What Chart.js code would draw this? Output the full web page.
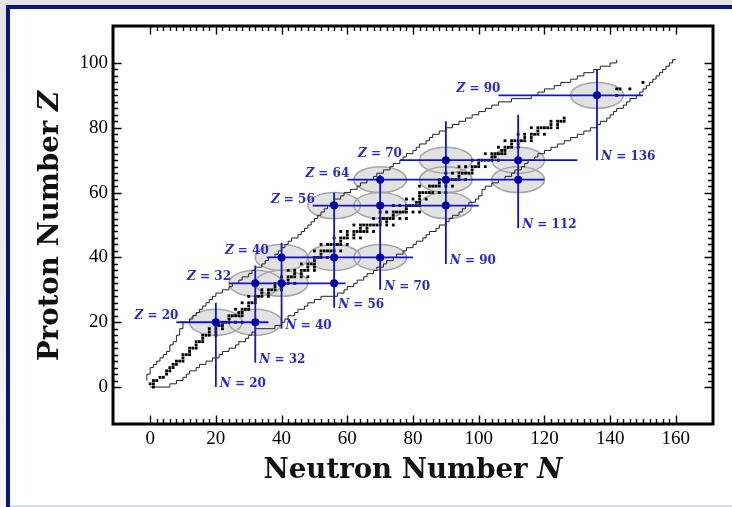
<!DOCTYPE html>
<html><head><meta charset="utf-8">
<script src="https://cdn.jsdelivr.net/npm/chart.js@4.4.1/dist/chart.umd.min.js"></script>
<style>
html,body{margin:0;padding:0;}
body{width:732px;height:507px;background:#e3e3e3;position:relative;overflow:hidden;}
#leftstrip{position:absolute;left:0;top:0;width:6px;height:507px;background:linear-gradient(#e3e3e3,#f6f6f6);}
#panel{position:absolute;left:6px;top:5px;width:726px;height:502px;background:#fff;border-top:4px solid #0b1478;border-left:4px solid #0b1478;box-sizing:border-box;}
#bottomline{position:absolute;left:10px;top:505px;width:722px;height:2px;background:#dcdcf0;}
canvas{position:absolute;left:0;top:0;}
</style></head><body>
<div id="leftstrip"></div><div id="panel"></div><div id="bottomline"></div>
<canvas id="c" width="732" height="507"></canvas>
<script>
// ---------- data ----------
const xTickLabels = [0,20,40,60,80,100,120,140,160];
const yTickLabels = [0,20,40,60,80,100];
const xTitleText = 'Neutron Number ', xTitleSymbol = 'N';
const yTitleText = 'Proton Number ', yTitleSymbol = 'Z';

// stable / long-lived nuclides: proton number and the neutron numbers found for it
const elementZ = [0,1,2,3,4,5,6,7,8,9,10,11,12,13,14,15,16,17,18,19,20,21,22,23,24,25,26,27,28,29,30,31,32,33,34,35,36,37,38,39,40,41,42,44,45,46,47,48,49,50,51,52,53,54,55,56,57,58,59,60,62,63,64,65,66,67,68,69,70,71,72,73,74,75,76,77,78,79,80,81,82,83,90,92,94];
const stableN = [
[1],[0,1],[1,2],[3,4],[5],[5,6],[6,7],[7,8],[8,9,10],[10],[10,11,12],[12],[12,13,14],[14],[14,15,16],[16],[16,17,18,20],[18,20],[18,20,22],[20,21,22],
[20,22,23,24,26,28],[24],[24,25,26,27,28],[27,28],[26,28,29,30],[30],[28,30,31,32],[32],[30,32,33,34,36],[34,36],[34,36,37,38,40],[38,40],[38,40,41,42,44],[42],
[40,42,43,44,46,48],[44,46],[42,44,46,47,48,50],[48,50],[46,48,49,50],[50],[50,51,52,54,56],[52],[50,52,53,54,55,56,58],[52,54,55,56,57,58,60],[58],
[56,58,59,60,62,64],[60,62],[58,60,62,63,64,65,66,68],[64,66],[62,64,65,66,67,68,69,70,72,74],[70,72],[68,70,71,72,73,74,76,78],[74],
[70,72,74,75,76,77,78,80,82],[78],[74,76,78,79,80,81,82],[81,82],[78,80,82,84],[82],[82,83,84,85,86,88,90],[82,85,86,87,88,90,92],[88,90],
[88,90,91,92,93,94,96],[94],[90,92,94,95,96,97,98],[98],[94,96,98,99,100,102],[100],[98,100,101,102,103,104,106],[104,105],[102,104,105,106,107,108],
[107,108],[106,108,109,110,112],[110,112],[108,110,111,112,113,114,116],[114,116],[112,114,116,117,118,120],[118],[116,118,119,120,121,122,124],
[122,124],[122,124,125,126],[126],[142],[142,143,146],[150]
];

// proton drip line (upper-left staircase)
const protonDripZ = [2,3,4,5,6,7,8,9,10,11,12,13,14,15,16,17,18,19,20,21,22,23,24,25,26,27,28,29,30,31,32,33,34,35,36,37,38,39,40,41,42,43,44,45,46,47,48,49,50,51,52,53,54,55,56,57,58,59,60,61,62,63,64,65,66,67,68,69,70,71,72,73,74,75,76,77,78,79,80,81,82,83,84,85,86,87,88,89,90,91,92,93,94,95,96,97,98,99,100,101];
const protonDripN = [-1,-1,-1,0,0,1,2,3,4,5,6,6,7,8,8,9,9,10,10,12,13,14,15,16,17,18,19,20,22,24,25,27,28,30,31,32,34,35,36,38,39,40,41,42,43,45,46,47,48,49,50,51,52,53,54,55,56,58,59,61,63,64,66,68,69,71,73,74,76,77,78,80,81,82,84,85,86,88,90,92,94,96,98,100,102,104,106,110,116,118,120,123,125,128,130,132,135,137,140,142];
// neutron drip line (lower-right staircase)
const neutronDripZ = [0,0,1,2,3,4,5,6,7,8,9,10,11,12,13,14,15,16,17,18,19,20,21,22,23,24,25,26,27,28,29,30,31,32,33,34,35,36,37,38,39,40,41,42,43,44,45,46,47,48,49,50,51,52,53,54,55,56,57,58,59,60,61,62,63,64,65,66,67,68,69,70,71,72,73,74,75,76,77,78,79,80,81,82,83,84,85,86,87,88,89,90,91,92,93,94,95,96,97,98,99,100,101];
const neutronDripN = [0,6,8,10,11,12,14,15,17,19,21,22,24,26,27,29,30,31,32,38,40,41,42,44,45,47,48,50,52,57,59,60,62,63,65,66,68,69,71,72,74,75,77,78,80,81,83,84,85,87,88,90,91,92,94,95,96,97,99,100,101,101,102,104,106,108,110,111,113,114,115,117,118,120,122,124,126,128,130,132,134,136,137,139,140,141,142,144,145,146,148,149,150,151,152,153,154,155,156,157,158,159,160];

// magic numbers
const magicZ = [20,32,40,56,64,70,90];
const magicZFromN = [8,24,35.5,49.5,60,76,106];
const magicZToN = [36,59.5,80,100,120,130,150];
const magicN = [20,32,40,56,70,90,112,136];
const magicNTopZ = [26,37.5,44.5,60,65.5,82,84,98];
const magicNBottomZ = [0,7.5,18,24.5,30,38,49,70];
const crossN = [20,32,32,40,40,56,56,70,56,70,90,70,90,90,112,112,136];
const crossZ = [20,20,32,32,40,32,40,40,56,56,56,64,64,70,64,70,90];
const ellipseN = [20,32,32,40,40,56,70,56,70,90,70,90,90,112,112,136];
const ellipseZ = [20,20,32,32,40,40,40,56,56,56,64,64,70,64,70,90];

// ---------- styles ----------
const BLUE_LINE = '#1414c4', BLUE_DOT = '#0000a6', BLUE_TEXT = '#2a2ac6';
const ELL_HALF_N = 8, ELL_HALF_Z = 4;
const LABEL_IT = 'italic bold 12px "DejaVu Serif"', LABEL_B = 'bold 12px "DejaVu Serif"';
const TITLE_B = 'bold 27.6px "DejaVu Serif"', TITLE_IT = 'italic bold 27.6px "DejaVu Serif"';

// ---------- datasets ----------
const datasets = [];
datasets.push({data: protonDripN.map((n,i)=>({x:n,y:protonDripZ[i]})), stepped:'before', borderColor:'#222', borderWidth:1, pointRadius:0, fill:false, order:10});
datasets.push({data: neutronDripN.map((n,i)=>({x:n,y:neutronDripZ[i]})), stepped:'after', borderColor:'#222', borderWidth:1, pointRadius:0, fill:false, order:10});
const stablePts = [];
elementZ.forEach((z,i)=>stableN[i].forEach(n=>stablePts.push({x:n,y:z})));
datasets.push({data: stablePts, showLine:false, pointStyle:'rect', pointRadius:2, backgroundColor:'#000', borderWidth:0, order:8});
magicZ.forEach((z,i)=>datasets.push({data:[{x:magicZFromN[i],y:z},{x:magicZToN[i],y:z}], borderColor:BLUE_LINE, borderWidth:1.8, pointRadius:0, fill:false, order:5}));
magicN.forEach((n,i)=>datasets.push({data:[{x:n,y:magicNTopZ[i]},{x:n,y:magicNBottomZ[i]}], borderColor:BLUE_LINE, borderWidth:1.8, pointRadius:0, fill:false, order:5}));
datasets.push({data: crossN.map((n,i)=>({x:n,y:crossZ[i]})), showLine:false, pointStyle:'circle', pointRadius:4, backgroundColor:BLUE_DOT, borderWidth:0, order:1});

function mixed(ctx, parts, x, y, align){
  let total = 0; const ws = parts.map(p=>{ctx.font=p[1]; const w=ctx.measureText(p[0]).width; total+=w; return w;});
  let cx = align==='right' ? x-total : (align==='center' ? x-total/2 : x);
  parts.forEach((p,i)=>{ctx.font=p[1]; ctx.fillText(p[0], cx, y); cx+=ws[i];});
}

const nuclearPlugin = {
  id:'nuclear',
  beforeDatasetsDraw(chart){
    const {ctx, chartArea:a, scales:{x,y}} = chart;
    ctx.save();
    ctx.beginPath(); ctx.rect(a.left,a.top,a.right-a.left,a.bottom-a.top); ctx.clip();
    const shapes = ellipseN.map((n,i)=>{
      const cx = x.getPixelForValue(n), cy = y.getPixelForValue(ellipseZ[i]);
      return [cx, cy, x.getPixelForValue(n+ELL_HALF_N)-cx, cy-y.getPixelForValue(ellipseZ[i]+ELL_HALF_Z)];
    });
    ctx.fillStyle='#e2e2e2';
    shapes.forEach(s=>{ctx.beginPath(); ctx.ellipse(s[0],s[1],s[2],s[3],0,0,Math.PI*2); ctx.fill();});
    ctx.strokeStyle='#a6a6a6'; ctx.lineWidth=1.5;
    shapes.forEach(s=>{ctx.beginPath(); ctx.ellipse(s[0],s[1],s[2],s[3],0,0,Math.PI*2); ctx.stroke();});
    ctx.restore();
  },
  afterDatasetsDraw(chart){
    const {ctx, chartArea:a, scales:{x,y}} = chart;
    ctx.save();
    ctx.fillStyle = BLUE_TEXT; ctx.textBaseline='alphabetic';
    magicZ.forEach((z,i)=>{
      mixed(ctx, [['Z',LABEL_IT],[' = '+z,LABEL_B]], x.getPixelForValue(magicZFromN[i])+2, y.getPixelForValue(z)-3, 'right');
    });
    magicN.forEach((n,i)=>{
      mixed(ctx, [['N',LABEL_IT],[' = '+n,LABEL_B]], x.getPixelForValue(n)+4, y.getPixelForValue(magicNBottomZ[i]), 'left');
    });
    // frame
    ctx.strokeStyle='#000'; ctx.lineWidth=3;
    ctx.strokeRect(a.left,a.top,a.right-a.left,a.bottom-a.top);
    // inward ticks
    ctx.lineWidth=1.4;
    const xs = xTickLabels[0], xe = xTickLabels[xTickLabels.length-1];
    for(let v=xs; v<=xe; v+=2){
      const px = Math.round(x.getPixelForValue(v))+0.5, L = (v%20===0)?8.5:5;
      ctx.beginPath(); ctx.moveTo(px,a.bottom); ctx.lineTo(px,a.bottom-L); ctx.moveTo(px,a.top); ctx.lineTo(px,a.top+L); ctx.stroke();
    }
    const ys = yTickLabels[0], ye = yTickLabels[yTickLabels.length-1];
    for(let v=ys; v<=ye; v+=2){
      const py = Math.round(y.getPixelForValue(v))+0.5, L = (v%20===0)?8.5:5;
      ctx.beginPath(); ctx.moveTo(a.left,py); ctx.lineTo(a.left+L,py); ctx.moveTo(a.right,py); ctx.lineTo(a.right-L,py); ctx.stroke();
    }
    // axis titles
    ctx.fillStyle='#111';
    mixed(ctx, [[xTitleText,TITLE_B],[xTitleSymbol,TITLE_IT]], (a.left+a.right)/2, 478, 'center');
    ctx.translate(58,(a.top+a.bottom)/2+1); ctx.rotate(-Math.PI/2);
    mixed(ctx, [[yTitleText,TITLE_B],[yTitleSymbol,TITLE_IT]], 0, 0, 'center');
    ctx.restore();
  }
};

new Chart(document.getElementById('c'), {
  type:'line',
  data:{datasets},
  options:{
    responsive:false, animation:false, devicePixelRatio:1,
    layout:{padding:{left:0,top:26,right:19,bottom:0}},
    plugins:{legend:{display:false}, tooltip:{enabled:false}},
    scales:{
      x:{type:'linear', min:-11.3, max:171.3, grid:{display:false,drawTicks:false}, border:{display:false},
         afterBuildTicks:s=>{s.ticks = xTickLabels.map(v=>({value:v}));},
         afterFit:s=>{s.height=83;},
         ticks:{font:{family:'Liberation Serif',size:19}, color:'#000', padding:4, maxRotation:0, autoSkip:false}},
      y:{type:'linear', min:-11.4, max:111.4, grid:{display:false,drawTicks:false}, border:{display:false},
         afterBuildTicks:s=>{s.ticks = yTickLabels.map(v=>({value:v}));},
         afterFit:s=>{s.width=113;},
         ticks:{font:{family:'Liberation Serif',size:19}, color:'#000', padding:5, autoSkip:false}}
    }
  },
  plugins:[nuclearPlugin]
});
</script></body></html>
